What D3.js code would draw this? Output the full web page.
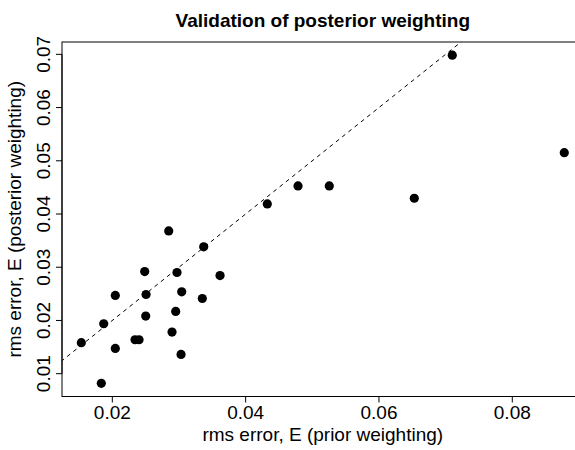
<!DOCTYPE html>
<html>
<head>
<meta charset="utf-8">
<script src="https://cdn.jsdelivr.net/npm/d3@7/dist/d3.min.js"></script>
<style>
  html, body { margin: 0; padding: 0; background: #fff; }
  svg { display: block; }
  text { font-family: "Liberation Sans", Arial, Helvetica, sans-serif; fill: #000; }
</style>
</head>
<body>
<svg id="chart" width="575" height="450"></svg>
<script>
// ---- data ----
const xPrior = [0.02846, 0.03371, 0.02486, 0.02970, 0.03616, 0.02045, 0.02506, 0.03041,
                0.03350, 0.02501, 0.02951, 0.01871, 0.02896, 0.01535, 0.02341, 0.02401,
                0.02045, 0.03031, 0.01835, 0.07100, 0.04786, 0.05255, 0.06530, 0.08780, 0.04325];
const yPosterior = [0.03683, 0.03383, 0.02919, 0.02901, 0.02844, 0.02470, 0.02488, 0.02538,
                    0.02413, 0.02083, 0.02169, 0.01938, 0.01782, 0.01582, 0.01638, 0.01638,
                    0.01475, 0.01362, 0.00818, 0.06985, 0.04527, 0.04527, 0.04296, 0.05152, 0.04189];
const xTicks = [0.02, 0.04, 0.06, 0.08];
const yTicks = [0.01, 0.02, 0.03, 0.04, 0.05, 0.06, 0.07];
const xTickLabels = ["0.02", "0.04", "0.06", "0.08"];
const yTickLabels = ["0.01", "0.02", "0.03", "0.04", "0.05", "0.06", "0.07"];
const titleText = "Validation of posterior weighting";
const xLabel = "rms error, E (prior weighting)";
const yLabel = "rms error, E (posterior weighting)";

// ---- layout ----
const svg = d3.select("#chart");
const pLeft = 62, pRight = 583.6, pTop = 42, pBottom = 396.5;

function padExtent(arr) {
  const [a, b] = d3.extent(arr);
  const p = (b - a) * 0.04;
  return [a - p, b + p];
}
const x = d3.scaleLinear().domain(padExtent(xPrior)).range([pLeft, pRight]);
const y = d3.scaleLinear().domain(padExtent(yPosterior)).range([pBottom, pTop]);

// clip
svg.append("defs").append("clipPath").attr("id", "plotclip")
  .append("rect").attr("x", pLeft).attr("y", pTop)
  .attr("width", pRight - pLeft).attr("height", pBottom - pTop);

// reference line y = x
const lo = Math.min(x.domain()[0], y.domain()[0]);
const hi = Math.max(x.domain()[1], y.domain()[1]);
svg.append("line")
  .attr("clip-path", "url(#plotclip)")
  .attr("x1", x(lo)).attr("y1", y(lo))
  .attr("x2", x(hi)).attr("y2", y(hi))
  .attr("stroke", "#000").attr("stroke-width", 1)
  .attr("stroke-dasharray", "4,4");

// points
svg.append("g").selectAll("circle")
  .data(xPrior.map((v, i) => [v, yPosterior[i]]))
  .join("circle")
  .attr("cx", d => x(d[0])).attr("cy", d => y(d[1]))
  .attr("r", 4.6).attr("fill", "#000");

// box
svg.append("rect")
  .attr("x", pLeft).attr("y", pTop)
  .attr("width", pRight - pLeft).attr("height", pBottom - pTop)
  .attr("fill", "none").attr("stroke", "#000").attr("stroke-width", 1);

// x axis
const gx = svg.append("g");
gx.append("line")
  .attr("x1", x(xTicks[0])).attr("x2", x(xTicks[xTicks.length - 1]))
  .attr("y1", pBottom).attr("y2", pBottom)
  .attr("stroke", "#000");
xTicks.forEach((t, i) => {
  gx.append("line").attr("x1", x(t)).attr("x2", x(t))
    .attr("y1", pBottom).attr("y2", pBottom + 6).attr("stroke", "#000");
  gx.append("text").attr("x", x(t)).attr("y", 418.5)
    .attr("text-anchor", "middle").attr("font-size", 19)
    .text(xTickLabels[i]);
});
svg.append("text").attr("x", (pLeft + pRight) / 2).attr("y", 441)
  .attr("text-anchor", "middle").attr("font-size", 19).text(xLabel);

// y axis
const gy = svg.append("g");
gy.append("line")
  .attr("y1", y(yTicks[0])).attr("y2", y(yTicks[yTicks.length - 1]))
  .attr("x1", pLeft).attr("x2", pLeft)
  .attr("stroke", "#000");
yTicks.forEach((t, i) => {
  gy.append("line").attr("y1", y(t)).attr("y2", y(t))
    .attr("x1", pLeft).attr("x2", pLeft - 6).attr("stroke", "#000");
  gy.append("text")
    .attr("transform", `translate(50,${y(t)}) rotate(-90)`)
    .attr("text-anchor", "middle").attr("font-size", 19)
    .text(yTickLabels[i]);
});
svg.append("text")
  .attr("transform", `translate(21,${(pTop + pBottom) / 2}) rotate(-90)`)
  .attr("text-anchor", "middle").attr("font-size", 19).text(yLabel);

// title
svg.append("text").attr("x", (pLeft + pRight) / 2).attr("y", 27)
  .attr("text-anchor", "middle").attr("font-size", 19).attr("font-weight", "bold")
  .text(titleText);
</script>
</body>
</html>
